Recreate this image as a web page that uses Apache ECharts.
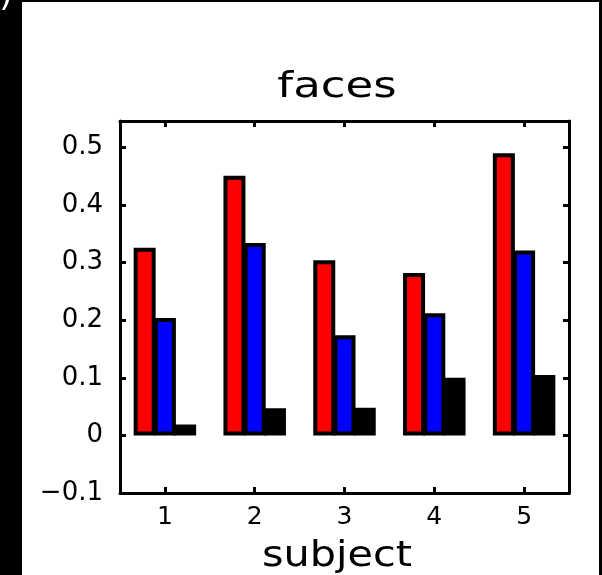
<!DOCTYPE html>
<html><head><meta charset="utf-8">
<script src="https://cdn.jsdelivr.net/npm/echarts@6/dist/echarts.min.js"></script>
<style>html,body{margin:0;padding:0;background:#fff}#c{width:602px;height:575px}</style>
</head><body><div id="c"></div>
<script>
const subjects = ['1', '2', '3', '4', '5'];
const redValues = [0.326, 0.451, 0.304, 0.282, 0.490];
const blueValues = [0.204, 0.334, 0.174, 0.212, 0.321];
const blackValues = [0.019, 0.047, 0.048, 0.100, 0.105];
const yTickValues = [-0.1, 0, 0.1, 0.2, 0.3, 0.4, 0.5];
const yTickLabels = ['\u22120.1', '0', '0.1', '0.2', '0.3', '0.4', '0.5'];
const titleText = 'faces';
const xAxisName = 'subject';

const FONT = 'DejaVu Sans';
const chart = echarts.init(document.getElementById('c'), null, {renderer: 'canvas'});

function yLabel(v) {
  for (let i = 0; i < yTickValues.length; i++) {
    if (Math.abs(yTickValues[i] - v) < 1e-6) return yTickLabels[i];
  }
  return '';
}
const axisLineStyle = {show: true, onZero: false, lineStyle: {color: '#000', width: 3}};
const tickStyle = {show: true, inside: true, length: 6, lineStyle: {color: '#000', width: 3}};

function barSeries(name, data, color) {
  return {
    name: name, type: 'bar', data: data,
    xAxisIndex: 0, yAxisIndex: 0,
    barWidth: 22, barGap: '-8%',
    itemStyle: {color: color, borderColor: '#000', borderWidth: 4},
    animation: false
  };
}

chart.setOption({
  animation: false,
  backgroundColor: '#fff',
  grid: {left: 120, right: 33, top: 121, bottom: 82, containLabel: false},
  xAxis: [
    {type: 'category', data: subjects, position: 'bottom',
     axisLine: axisLineStyle,
     axisTick: Object.assign({alignWithLabel: true}, tickStyle),
     axisLabel: {color: '#000', fontFamily: FONT, fontSize: 25, margin: 12},
     splitLine: {show: false}},
    {type: 'category', data: subjects, position: 'top',
     axisLine: axisLineStyle,
     axisTick: Object.assign({alignWithLabel: true}, tickStyle),
     axisLabel: {show: false},
     splitLine: {show: false}}
  ],
  yAxis: [
    {type: 'value', min: -0.1, max: 0.546, interval: 0.1, position: 'left',
     axisLine: axisLineStyle, axisTick: tickStyle,
     axisLabel: {color: '#000', fontFamily: FONT, fontSize: 26, margin: 17,
                 showMaxLabel: false, formatter: yLabel},
     splitLine: {show: false}},
    {type: 'value', min: -0.1, max: 0.546, interval: 0.1, position: 'right',
     axisLine: axisLineStyle, axisTick: tickStyle,
     axisLabel: {show: false},
     splitLine: {show: false}}
  ],
  series: [
    barSeries('red', redValues, '#ff0000'),
    barSeries('blue', blueValues, '#0000ff'),
    barSeries('black', blackValues, '#000000')
  ],
  graphic: [
    {type: 'rect', left: 0, top: 0, shape: {width: 22, height: 575}, style: {fill: '#000'}, silent: true},
    {type: 'rect', left: 0, top: 0, shape: {width: 602, height: 2}, style: {fill: '#000'}, silent: true},
    {type: 'rect', left: 599, top: 0, shape: {width: 3, height: 575}, style: {fill: '#000'}, silent: true},
    {type: 'text', x: 6, y: 14, silent: true,
     style: {text: ')', fontFamily: FONT, fontSize: 34, fill: '#fff',
             textAlign: 'center', textVerticalAlign: 'bottom', align: 'center', verticalAlign: 'bottom'}},
    {type: 'text', x: 337, y: 88, scaleX: 1.25, silent: true,
     style: {text: titleText, fontFamily: FONT, fontSize: 36, fill: '#000',
             textAlign: 'center', textVerticalAlign: 'middle', align: 'center', verticalAlign: 'middle'}},
    {type: 'text', x: 337, y: 557, scaleX: 1.15, silent: true,
     style: {text: xAxisName, fontFamily: FONT, fontSize: 36, fill: '#000',
             textAlign: 'center', textVerticalAlign: 'middle', align: 'center', verticalAlign: 'middle'}}
  ]
});
</script></body></html>
